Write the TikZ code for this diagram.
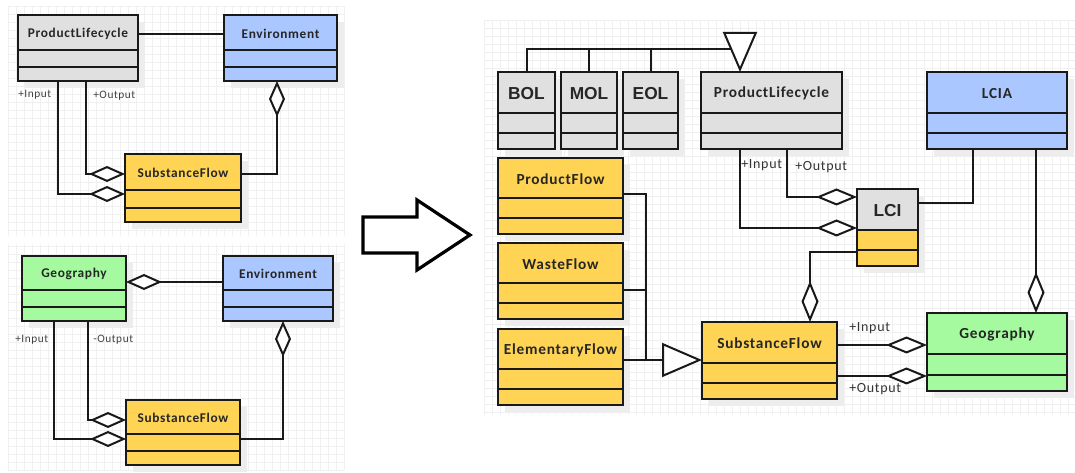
\documentclass[tikz,border=0pt]{standalone}
\usepackage{fontspec}
\setmainfont{Carlito}
\newfontfamily\umlfont[LetterSpace=5]{Carlito}
\newfontfamily\arialfont{Liberation Sans}
\usetikzlibrary{arrows.meta, calc}

\definecolor{clsgray}{RGB}{224,224,224}
\definecolor{clsblue}{RGB}{170,200,255}
\definecolor{clsgreen}{RGB}{165,250,160}
\definecolor{clsyellow}{RGB}{255,212,85}

\newlength{\upx}
\setlength{\upx}{0.75pt}

\newcommand{\smallcls}{\umlfont\bfseries\fontsize{10}{12}\selectfont}
\newcommand{\bigcls}{\umlfont\bfseries\fontsize{11.5}{13}\selectfont}
\newcommand{\phasecls}{\arialfont\bfseries\fontsize{13}{15}\selectfont}

% classe UML : nom, x, y, largeur, hauteur, fond titre, fond corps, police, texte
\newcommand{\umlclass}[9]{%
  \fill[shadowbox] (#2+7,#3+7) rectangle ++(#4,#5);
  \node[body, fill=#7, minimum width=#4\upx, minimum height=#5\upx, anchor=north west] (#1) at (#2,#3) {};
  \fill[#6] (#1.north west) rectangle ($(#1.north east)!0.53!(#1.south east)$);
  \draw[border] ($(#1.north west)!0.53!(#1.south west)$) -- ($(#1.north east)!0.53!(#1.south east)$);
  \draw[border] ($(#1.north west)!0.79!(#1.south west)$) -- ($(#1.north east)!0.79!(#1.south east)$);
  \draw[border] (#1.north west) rectangle (#1.south east);
  \node[font=#8, text=black!85] (#1-t) at ($(#1.north)!0.28!(#1.south)$) {#9};
}

\begin{document}
\begin{tikzpicture}[
    x=0.75pt, y=-0.75pt,
    gridline/.style={black!6, line width=0.5pt},
    shadowbox/.style={black!7},
    body/.style={inner sep=0pt, outer sep=0pt},
    border/.style={line width=1.5pt, black!90},
    conn/.style={line width=1.5pt, black!90},
    aggL/.style={conn, -{Diamond[fill=white, length=27pt, width=12pt]}},
    aggR/.style={conn, -{Diamond[fill=white, length=30.75pt, width=12.75pt]}},
    gen/.style={conn, -{Triangle[fill=white, length=30pt, width=25.5pt]}},
    lblL/.style={font=\umlfont\fontsize{8.5}{10}\selectfont, text=black!75, anchor=west, inner sep=0pt},
    lblR/.style={font=\umlfont\fontsize{10.5}{12}\selectfont, text=black!80, anchor=west, inner sep=0pt}
]
\useasboundingbox (0,0) rectangle (1075,473);

% Grilles
\foreach \x in {8,16,...,344} \draw[gridline] (\x,6) -- (\x,236);
\foreach \y in {6,14,...,236} \draw[gridline] (8,\y) -- (344,\y);
\foreach \x in {8,16,...,344} \draw[gridline] (\x,244) -- (\x,470);
\foreach \y in {246,254,...,470} \draw[gridline] (8,\y) -- (344,\y);
\foreach \x in {484,492,...,1075} \draw[gridline] (\x,20) -- (\x,415);
\foreach \y in {20,28,...,415} \draw[gridline] (484,\y) -- (1075,\y);

% Haut gauche
\umlclass{pla}{18}{15}{120}{66}{clsgray}{clsgray}{\smallcls}{ProductLifecycle}
\umlclass{enva}{224}{15}{113}{66}{clsblue}{clsblue}{\smallcls}{Environment}
\umlclass{sfa}{125}{154}{116}{68}{clsyellow}{clsyellow}{\smallcls}{SubstanceFlow}

\draw[conn] (pla.east |- 0,34) -- (enva.west |- 0,34);
\draw[aggL] (pla.south -| 58,0) |- (sfa.west |- 0,194);
\draw[aggL] (pla.south -| 86,0) |- (sfa.west |- 0,174);
\draw[aggL] (sfa.east |- 0,174) -| (enva.south -| 277,0);
\node[lblL] (ina) at (18,95) {+Input};
\node[lblL] (outa) at (93,96) {+Output};

% Bas gauche
\umlclass{geob}{22}{256}{104}{65}{clsgreen}{clsgreen}{\smallcls}{Geography}
\umlclass{envb}{223}{256}{110}{65}{clsblue}{clsblue}{\smallcls}{Environment}
\umlclass{sfb}{126}{400}{114}{65}{clsyellow}{clsyellow}{\smallcls}{SubstanceFlow}

\draw[aggL] (envb.west |- 0,282) -- (geob.east |- 0,282);
\draw[aggL] (geob.south -| 54,0) |- (sfb.west |- 0,439);
\draw[aggL] (geob.south -| 88,0) |- (sfb.west |- 0,420);
\draw[aggL] (sfb.east |- 0,439) -| (envb.south -| 283,0);
\node[lblL] (inb) at (15,340) {+Input};
\node[lblL] (outb) at (93,340) {-Output};

% Grosse flèche
\draw[line width=2.4pt, line join=miter] (363,217) -- (417,217) -- (417,200) -- (470,235)
    -- (417,270) -- (417,253) -- (363,253) -- cycle;

% Droite : classes
\umlclass{bol}{498}{72}{57}{77}{clsgray}{clsgray}{\phasecls}{BOL}
\umlclass{mol}{561}{72}{56}{77}{clsgray}{clsgray}{\phasecls}{MOL}
\umlclass{eol}{623}{72}{55}{77}{clsgray}{clsgray}{\phasecls}{EOL}
\umlclass{pl}{701}{72}{141}{77}{clsgray}{clsgray}{\bigcls}{ProductLifecycle}
\umlclass{lcia}{927}{72}{140}{77}{clsblue}{clsblue}{\bigcls}{LCIA}
\umlclass{pf}{498}{158}{125}{76}{clsyellow}{clsyellow}{\bigcls}{ProductFlow}
\umlclass{wf}{498}{243}{125}{76}{clsyellow}{clsyellow}{\bigcls}{WasteFlow}
\umlclass{ef}{498}{329}{125}{76}{clsyellow}{clsyellow}{\bigcls}{ElementaryFlow}
\umlclass{lci}{857}{189}{61}{77}{clsgray}{clsyellow}{\phasecls}{LCI}
\umlclass{sf}{702}{322}{135}{77}{clsyellow}{clsyellow}{\bigcls}{SubstanceFlow}
\umlclass{geo}{927}{313}{140}{78}{clsgreen}{clsgreen}{\bigcls}{Geography}

% Droite : généralisations
\coordinate (gj) at (740,49);
\coordinate (gj2) at (646,360);
\draw[conn] (bol.north) |- (gj);
\draw[conn] (mol.north) -- (mol.north |- gj);
\draw[conn] (eol.north) -- (eol.north |- gj);
\draw[gen] (gj) -- (pl.north -| gj);
\draw[conn] (pf.east |- 0,194) -| (gj2);
\draw[conn] (wf.east |- 0,290) -- (gj2 |- 0,290);
\draw[gen] (ef.east |- gj2) -- (sf.west |- gj2);

% Droite : agrégations
\draw[aggR] (pl.south -| 740,0) |- (lci.west |- 0,228);
\draw[aggR] (pl.south -| 787,0) |- (lci.west |- 0,197);
\draw[conn] (lcia.south -| 973,0) |- (lci.east |- 0,203);
\draw[aggR] (lcia.south -| 1036,0) -- (geo.north -| 1036,0);
\draw[aggR] (lci.west |- 0,252) -| (sf.north -| 810,0);
\draw[aggR] (sf.east |- 0,345) -- (geo.west |- 0,345);
\draw[aggR] (sf.east |- 0,376) -- (geo.west |- 0,376);

\node[lblR] (inc) at (741,165) {+Input};
\node[lblR] (outc) at (795,167) {+Output};
\node[lblR] (ind) at (849,328) {+Input};
\node[lblR] (outd) at (849,389) {+Output};

\end{tikzpicture}
\end{document}
